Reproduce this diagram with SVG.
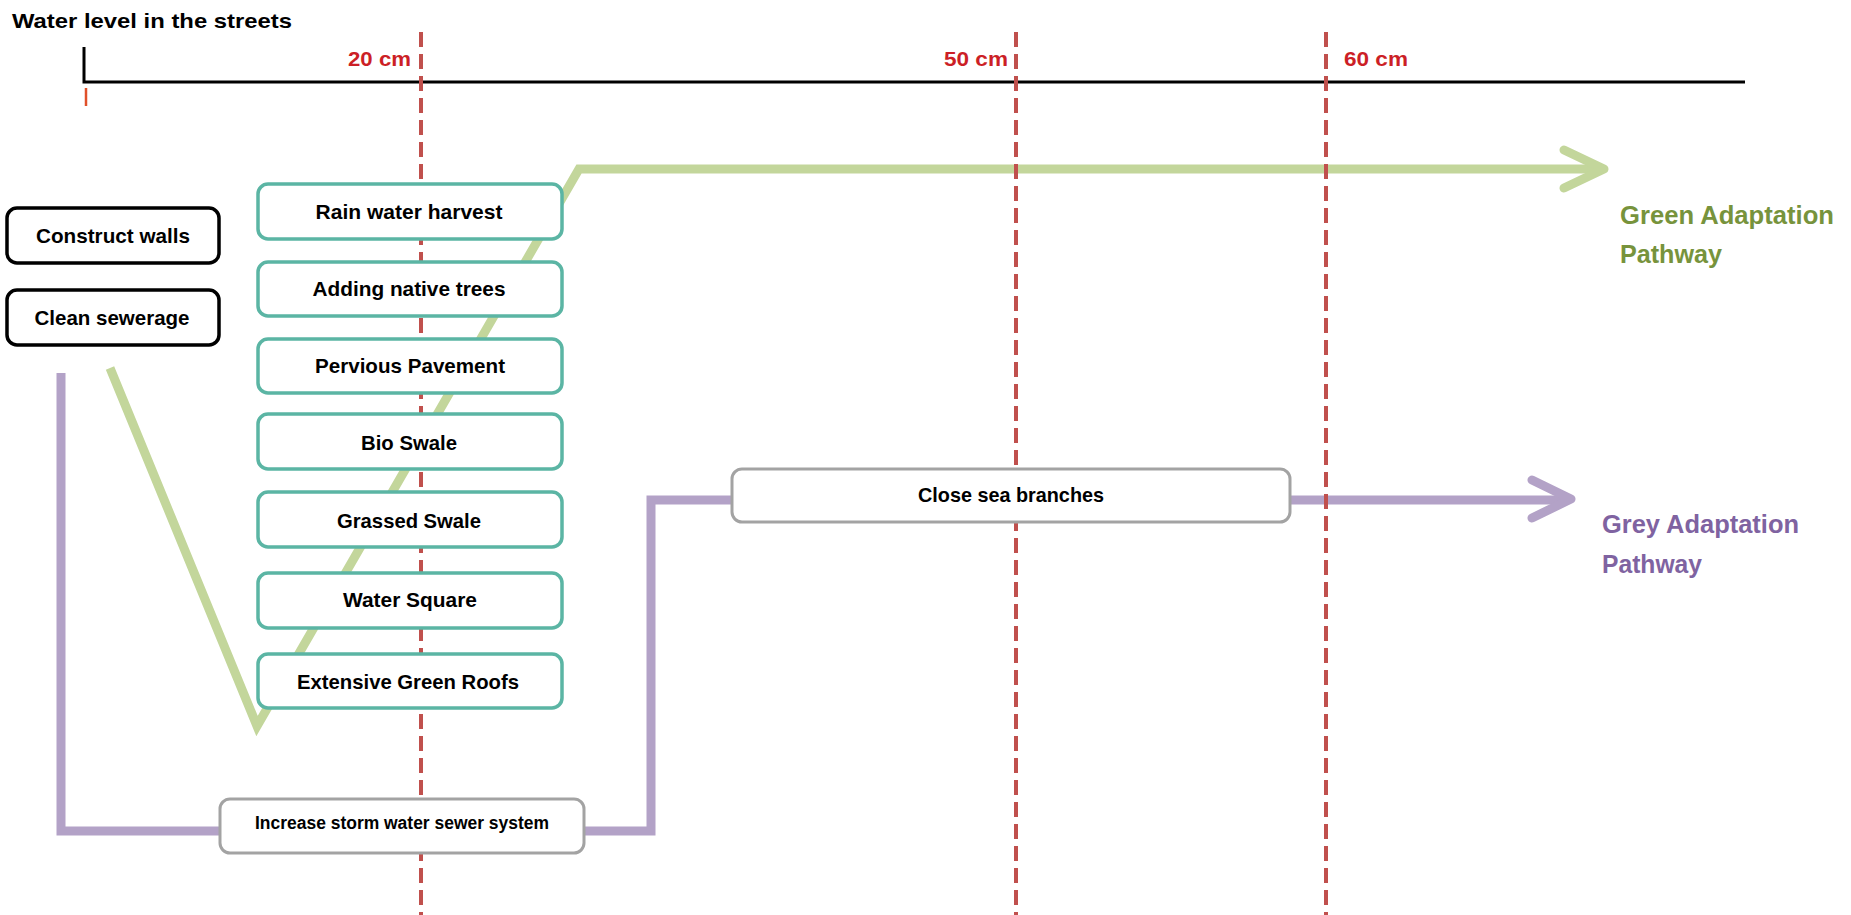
<svg xmlns="http://www.w3.org/2000/svg" width="1851" height="915" viewBox="0 0 1851 915">
  <style>
    text { font-family: "Liberation Sans", Arial, "DejaVu Sans", sans-serif; font-weight: bold; }
    .lbl { font-size: 21px; fill: #000; text-anchor: middle; }
    .small { font-size: 18px; }
    .cm { font-size: 20px; fill: #CC1F26; text-anchor: end; }
    .cm-l { text-anchor: start; }
    .box-black { fill: #fff; stroke: #000; stroke-width: 3.5; }
    .box-teal { fill: #fff; stroke: #5BB5A4; stroke-width: 3.5; }
    .box-grey { fill: #fff; stroke: #A3A3A3; stroke-width: 3; }
    .level { stroke: #C0504D; stroke-width: 4; stroke-dasharray: 15 7; fill: none; }
    .green { stroke: #C3D69B; stroke-width: 9; fill: none; }
    .purple { stroke: #B3A2C7; stroke-width: 9; fill: none; }
    .head { stroke-linecap: round; stroke-linejoin: round; }
    .path-green { font-size: 25px; fill: #77933C; }
    .path-grey { font-size: 25px; fill: #7F63A1; }
  </style>

  <rect width="1851" height="915" fill="#fff"/>

  <!-- water level axis -->
  <g id="axis">
    <text x="12" y="28" font-size="21" fill="#000" textLength="280" lengthAdjust="spacingAndGlyphs">Water level in the streets</text>
    <path d="M84,47 V82 H1745" fill="none" stroke="#000" stroke-width="3"/>
    <line x1="86" y1="88" x2="86" y2="106" stroke="#E0502A" stroke-width="2.5"/>
  </g>

  <!-- adaptation pathways -->
  <g id="connectors">
    <path id="green-pathway" class="green" d="M110,368 L257,726 L579,169 L1602,169"/>
    <path class="green head" d="M1564,150 L1604,169 L1564,188"/>
    <path id="grey-pathway" class="purple" d="M61,373 V831 H651 V500 H1569"/>
    <path class="purple head" d="M1532,480 L1571,499 L1532,518"/>
  </g>

  <!-- threshold lines -->
  <g id="levels">
    <line class="level" x1="421" y1="32" x2="421" y2="915"/>
    <line class="level" x1="1016" y1="32" x2="1016" y2="915"/>
    <line class="level" x1="1326" y1="32" x2="1326" y2="915"/>
    <text class="cm" x="411" y="66" textLength="63" lengthAdjust="spacingAndGlyphs">20 cm</text>
    <text class="cm" x="1008" y="66" textLength="64" lengthAdjust="spacingAndGlyphs">50 cm</text>
    <text class="cm cm-l" x="1344" y="66" textLength="64" lengthAdjust="spacingAndGlyphs">60 cm</text>
  </g>

  <!-- immediate measures -->
  <g id="construct-walls">
    <rect class="box-black" x="7" y="208" width="212" height="55" rx="10"/>
    <text class="lbl" x="113" y="243" textLength="154" lengthAdjust="spacingAndGlyphs">Construct walls</text>
  </g>
  <g id="clean-sewerage">
    <rect class="box-black" x="7" y="290" width="212" height="55" rx="10"/>
    <text class="lbl" x="112" y="325" textLength="155" lengthAdjust="spacingAndGlyphs">Clean sewerage</text>
  </g>

  <!-- green measures -->
  <g id="rain-water-harvest">
    <rect class="box-teal" x="258" y="184" width="304" height="55" rx="10"/>
    <text class="lbl" x="409" y="219" textLength="187" lengthAdjust="spacingAndGlyphs">Rain water harvest</text>
  </g>
  <g id="adding-native-trees">
    <rect class="box-teal" x="258" y="262" width="304" height="54" rx="10"/>
    <text class="lbl" x="409" y="296" textLength="193" lengthAdjust="spacingAndGlyphs">Adding native trees</text>
  </g>
  <g id="pervious-pavement">
    <rect class="box-teal" x="258" y="339" width="304" height="54" rx="10"/>
    <text class="lbl" x="410" y="373" textLength="190" lengthAdjust="spacingAndGlyphs">Pervious Pavement</text>
  </g>
  <g id="bio-swale">
    <rect class="box-teal" x="258" y="414" width="304" height="55" rx="10"/>
    <text class="lbl" x="409" y="450" textLength="96" lengthAdjust="spacingAndGlyphs">Bio Swale</text>
  </g>
  <g id="grassed-swale">
    <rect class="box-teal" x="258" y="492" width="304" height="55" rx="10"/>
    <text class="lbl" x="409" y="528" textLength="144" lengthAdjust="spacingAndGlyphs">Grassed Swale</text>
  </g>
  <g id="water-square">
    <rect class="box-teal" x="258" y="573" width="304" height="55" rx="10"/>
    <text class="lbl" x="410" y="607" textLength="134" lengthAdjust="spacingAndGlyphs">Water Square</text>
  </g>
  <g id="extensive-green-roofs">
    <rect class="box-teal" x="258" y="654" width="304" height="54" rx="10"/>
    <text class="lbl" x="408" y="689" textLength="222" lengthAdjust="spacingAndGlyphs">Extensive Green Roofs</text>
  </g>

  <!-- grey measures -->
  <g id="close-sea-branches">
    <rect class="box-grey" x="732" y="469" width="558" height="53" rx="10"/>
    <text class="lbl" x="1011" y="502" textLength="186" lengthAdjust="spacingAndGlyphs">Close sea branches</text>
  </g>
  <g id="storm-water-sewer">
    <rect class="box-grey" x="220" y="799" width="364" height="54" rx="10"/>
    <text class="lbl small" x="402" y="829" textLength="294" lengthAdjust="spacingAndGlyphs">Increase storm water sewer system</text>
  </g>

  <!-- pathway labels -->
  <g id="green-label">
    <text class="path-green" x="1620" y="224" textLength="214" lengthAdjust="spacingAndGlyphs">Green Adaptation</text>
    <text class="path-green" x="1620" y="263" textLength="102" lengthAdjust="spacingAndGlyphs">Pathway</text>
  </g>
  <g id="grey-label">
    <text class="path-grey" x="1602" y="533" textLength="197" lengthAdjust="spacingAndGlyphs">Grey Adaptation</text>
    <text class="path-grey" x="1602" y="573" textLength="100" lengthAdjust="spacingAndGlyphs">Pathway</text>
  </g>
</svg>
